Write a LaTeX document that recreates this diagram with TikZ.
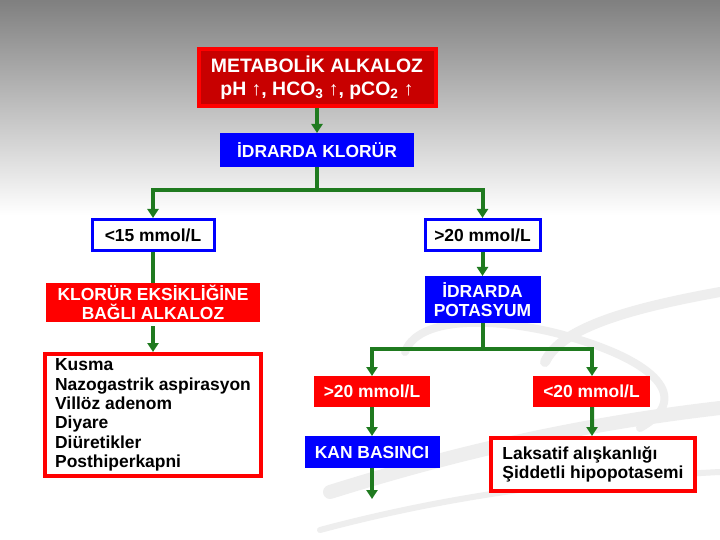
\documentclass[tikz,border=0pt]{standalone}
\usepackage{fontspec}
\setmainfont{Liberation Sans}
\usetikzlibrary{arrows.meta}
\definecolor{RedBox}{HTML}{FF0000}
\definecolor{DarkRedBox}{HTML}{C80000}
\definecolor{BlueBox}{HTML}{0000FF}
\definecolor{GreenArrow}{HTML}{1F7A1F}
\definecolor{SwooshGray}{HTML}{EEEEEE}
\newcommand\nodemeta{METABOLİK ALKALOZ\\pH ↑, HCO\textsubscript{3} ↑, pCO\textsubscript{2} ↑}
\newcommand\nodeklor{İDRARDA KLORÜR}
\newcommand\nodeltfifteen{<15 mmol/L}
\newcommand\nodegttwenty{>20 mmol/L}
\newcommand\nodeeks{KLORÜR EKSİKLİĞİNE\\BAĞLI ALKALOZ}
\newcommand\nodelist{Kusma\\Nazogastrik aspirasyon\\Villöz adenom\\Diyare\\Diüretikler\\Posthiperkapni}
\newcommand\nodepot{İDRARDA\\POTASYUM}
\newcommand\nodeltwenty{<20 mmol/L}
\newcommand\nodekan{KAN BASINCI}
\newcommand\nodelaks{Laksatif alışkanlığı\\Şiddetli hipopotasemi}
\tikzstyle{mybox} = [rectangle, inner sep=0pt, align=center, font=\bfseries\fontsize{17.5}{19.5}\selectfont]
\tikzstyle{rn} = [mybox, draw=RedBox, fill=RedBox, text=white]
\tikzstyle{bn} = [mybox, draw=BlueBox, fill=BlueBox, text=white]
\tikzstyle{wbn} = [mybox, draw=BlueBox, fill=white, text=black, line width=3bp]
\tikzstyle{wrn} = [mybox, draw=RedBox, fill=white, text=black, line width=4bp, align=left]
\tikzstyle{conn} = [draw=GreenArrow, line width=4bp]
\tikzstyle{swoosh} = [draw=SwooshGray, line cap=round]
\tikzset{>={Triangle[width=11bp,length=9bp]}, every picture/.style={line width=1bp}}

\begin{document}
\begin{tikzpicture}[x=1bp, y=-1bp]
\useasboundingbox (0,0) rectangle (720,540);
\fill[white] (0,0) rectangle (720,540);
\shade[top color=gray, bottom color=white] (0,0) rectangle (720,215);
% background swoosh
\draw[swoosh, line width=14bp] (330,492) .. controls (480,445) and (600,422) .. (720,408);
\draw[swoosh, line width=8bp] (405,352) .. controls (420,310) and (520,320) .. (580,340) .. controls (660,365) and (690,400) .. (640,428);
\draw[swoosh, line width=10bp] (720,292) .. controls (620,310) and (560,330) .. (545,362);
\draw[swoosh, line width=6bp] (320,530) .. controls (470,490) and (600,478) .. (720,472);

\node[rn, fill=DarkRedBox, line width=4bp, minimum width=237bp, minimum height=57bp, font=\bfseries\fontsize{19.5}{23}\selectfont] (meta) at (317,77.5) {\nodemeta};
\node[bn, minimum width=193bp, minimum height=33bp] (klor) at (317,150) {\nodeklor};
\node[wbn, minimum width=122bp, minimum height=31bp] (lt15) at (153,235) {\nodeltfifteen};
\node[wbn, minimum width=115bp, minimum height=31bp] (gt20) at (482.5,235) {\nodegttwenty};
\node[rn, minimum width=213bp, minimum height=38bp] (eks) at (153,302.5) {\nodeeks};
\node[wrn, minimum width=216bp, minimum height=122bp] (list) at (153,415) {\nodelist};
\node[bn, minimum width=115bp, minimum height=46bp] (pot) at (482.5,299.5) {\nodepot};
\node[rn, minimum width=115bp, minimum height=30bp] (kgt20) at (372,391.5) {\nodegttwenty};
\node[rn, minimum width=116bp, minimum height=30bp] (klt20) at (591.5,391.5) {\nodeltwenty};
\node[bn, minimum width=134bp, minimum height=31bp] (kan) at (372,452) {\nodekan};
\node[wrn, minimum width=204bp, minimum height=53bp] (laks) at (593,464.5) {\nodelaks};
\coordinate (j1) at (317,190);
\coordinate (j2) at (482.5,349);
\coordinate (kanend) at (372,499);
\draw [conn, ->] (meta) -- (klor);
\draw [conn] (klor) -- (j1);
\draw [conn, ->] (j1) -| (lt15.north);
\draw [conn, ->] (j1) -| (gt20.north);
\draw [conn] (lt15) -- (eks);
\draw [conn, ->, shorten <=4bp] (eks) -- (list.north);
\draw [conn, ->] (gt20) -- (pot);
\draw [conn] (pot) -- (j2);
\draw [conn, ->] (j2) -| (kgt20.north);
\draw [conn, ->] (j2) -| ([xshift=0.5bp]klt20.north);
\draw [conn, ->] (kgt20) -- (kan);
\draw [conn, ->] ([xshift=0.5bp]klt20.south) -- ([xshift=-1bp]laks.north);
\draw [conn, ->] (kan) -- (kanend);
\end{tikzpicture}
\end{document}
